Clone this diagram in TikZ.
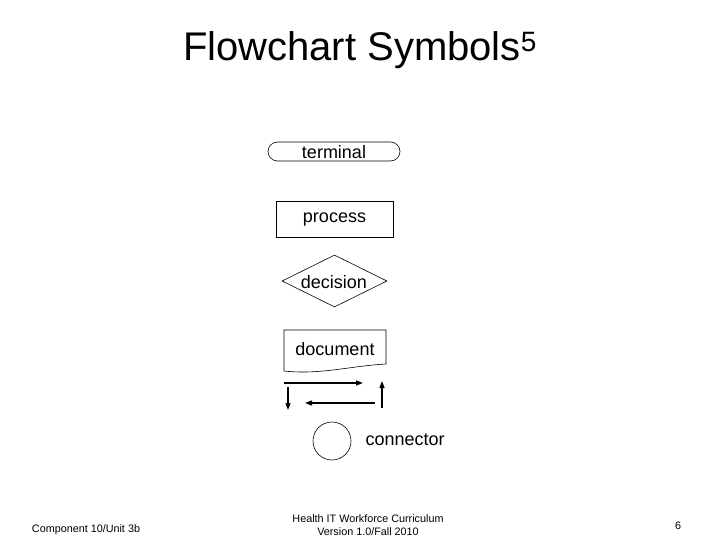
\documentclass[tikz,border=0pt]{standalone}
\usepackage{fontspec}
\setmainfont{Liberation Sans}
\usetikzlibrary{shapes.geometric,arrows.meta}
\begin{document}
\begin{tikzpicture}[x=1pt,y=-1pt,
  lbl/.style={font=\fontsize{18}{20}\selectfont},
  foot/.style={font=\fontsize{10.8}{13}\selectfont,align=center},
  arr/.style={line width=1.2pt,-{Triangle[length=7pt,width=5pt]}},
  shp/.style={draw,line width=0.6pt}]
\useasboundingbox (0,0) rectangle (720,540);
\node (title) at (360,50) {\fontsize{40}{44}\selectfont Flowchart Symbols\textsuperscript{5}};
\node[shp,rounded corners=9.5pt,minimum width=132pt,minimum height=19pt,inner sep=0pt] (term) at (334,151.5) {};
\node[lbl] (termt) at (334,152) {terminal};
\node[shp,minimum width=117pt,minimum height=36pt,inner sep=0pt] (proc) at (334.5,219) {};
\node[lbl] (proct) at (334.5,220) {process};
\node[shp,diamond,aspect=2,minimum width=105pt,minimum height=52pt,inner sep=0pt] (dec) at (334.5,281) {};
\node[lbl] (dect) at (334,282) {decision};
\draw[shp] (284,330) -- (386,330) -- (386,364) .. controls (350,366) and (320,375) .. (284,371) -- cycle;
\node[lbl] (doc) at (335,349) {document};
\coordinate (a1) at (284,383); \coordinate (a2) at (363,383);
\coordinate (b1) at (288,387); \coordinate (b2) at (288,410);
\coordinate (c1) at (375,403); \coordinate (c2) at (305,403);
\coordinate (d1) at (382,408); \coordinate (d2) at (382,381);
\draw[arr] (a1) -- (a2);
\draw[arr] (b1) -- (b2);
\draw[arr] (c1) -- (c2);
\draw[arr] (d1) -- (d2);
\node[shp,circle,minimum size=38pt,inner sep=0pt] (conn) at (332,441) {};
\node[lbl,anchor=west] (connt) at (362,440) {connector};
\node[foot] (f1) at (86,530) {Component 10/Unit 3b};
\node[foot] (f2) at (368,525) {Health IT Workforce Curriculum\\Version 1.0/Fall 2010};
\node[foot] (f3) at (678,526) {6};
\end{tikzpicture}
\end{document}
